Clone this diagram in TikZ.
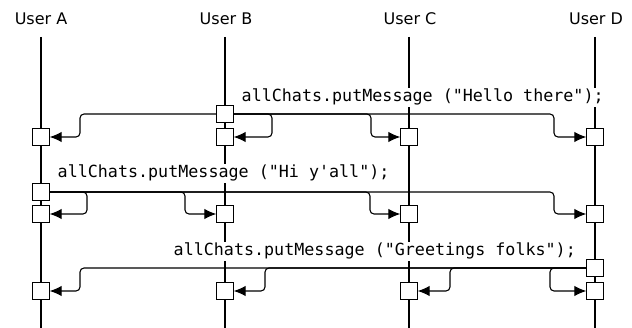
\documentclass[tikz,border=0pt]{standalone}
\usepackage{fontspec}
\setmainfont{DejaVu Sans}
\newfontfamily\codefont{DejaVu Sans Mono}
\usetikzlibrary{arrows.meta}
\begin{document}
\begin{tikzpicture}[x=1pt,y=-1pt,
  title/.style={font=\fontsize{16}{18}\selectfont, anchor=base},
  life/.style={line width=1.1pt},
  actbox/.style={draw, line width=1.4pt, fill=white, minimum size=16pt, inner sep=0pt},
  code/.style={font=\codefont\fontsize{16.7}{18}\selectfont, anchor=base west, fill=white, inner sep=1.5pt},
  msg/.style={line width=1.1pt, rounded corners=4pt, -{Latex[length=12pt,width=10.5pt]}}]
\useasboundingbox (0,0) rectangle (632,328);
% titles
\node[title] (tA) at (41,25) {User A};
\node[title] (tB) at (226,25) {User B};
\node[title] (tC) at (410,25) {User C};
\node[title] (tD) at (596,25) {User D};
% lifelines
\foreach \n/\x in {A/41,B/225,C/409,D/595}{
  \coordinate (top\n) at (\x,37);
  \coordinate (bot\n) at (\x,328);
  \draw[life] (top\n) -- (bot\n);
}
% code labels
\node[code] (c1) at (240,102) {allChats.putMessage ("Hello there");};
\node[code] (c2) at (56,178) {allChats.putMessage ("Hi y'all");};
\node[code] (c3) at (172,256) {allChats.putMessage ("Greetings folks");};
% row 1 : sender B
\node[actbox] (sB1) at (225,114) {};
\node[actbox] (rA1) at (41,137) {};
\node[actbox] (rB1) at (225,137) {};
\node[actbox] (rC1) at (409,137) {};
\node[actbox] (rD1) at (595,137) {};
\draw[msg] (sB1.west) -- (80,114) -- (80,137) -- (rA1.east);
\draw[msg] (sB1.east) -- (272,114) -- (272,137) -- (rB1.east);
\draw[msg] (sB1.east) -- (371,114) -- (371,137) -- (rC1.west);
\draw[msg] (sB1.east) -- (554,114) -- (554,137) -- (rD1.west);
% row 2 : sender A
\node[actbox] (sA2) at (41,192) {};
\node[actbox] (rA2) at (41,214) {};
\node[actbox] (rB2) at (225,214) {};
\node[actbox] (rC2) at (409,214) {};
\node[actbox] (rD2) at (595,214) {};
\draw[msg] (sA2.east) -- (87,192) -- (87,214) -- (rA2.east);
\draw[msg] (sA2.east) -- (185,192) -- (185,214) -- (rB2.west);
\draw[msg] (sA2.east) -- (370,192) -- (370,214) -- (rC2.west);
\draw[msg] (sA2.east) -- (554,192) -- (554,214) -- (rD2.west);
% row 3 : sender D
\node[actbox] (sD3) at (595,268) {};
\node[actbox] (rA3) at (41,291) {};
\node[actbox] (rB3) at (225,291) {};
\node[actbox] (rC3) at (409,291) {};
\node[actbox] (rD3) at (595,291) {};
\draw[msg] (sD3.west) -- (80,268) -- (80,291) -- (rA3.east);
\draw[msg] (sD3.west) -- (265,268) -- (265,291) -- (rB3.east);
\draw[msg] (sD3.west) -- (450,268) -- (450,291) -- (rC3.east);
\draw[msg] (sD3.west) -- (550,268) -- (550,291) -- (rD3.west);
% redraw boxes on top
\foreach \b in {sB1,rA1,rB1,rC1,rD1,sA2,rA2,rB2,rC2,rD2,sD3,rA3,rB3,rC3,rD3}{
  \draw[line width=1.4pt, fill=white] (\b.north west) rectangle (\b.south east);
}
\end{tikzpicture}
\end{document}
